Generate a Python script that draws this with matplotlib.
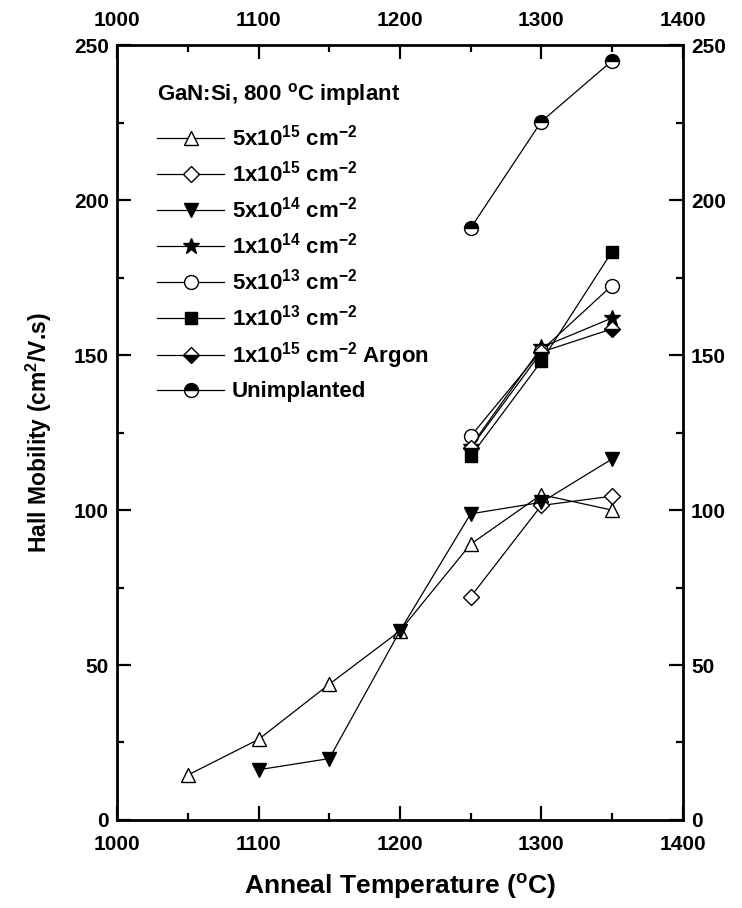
import matplotlib
matplotlib.use("Agg")
import matplotlib.pyplot as plt
from matplotlib.ticker import MultipleLocator

plt.rcParams['font.family'] = ['Liberation Sans', 'DejaVu Sans']
plt.rcParams['font.weight'] = 'bold'
plt.rcParams['mathtext.fontset'] = 'custom'
plt.rcParams['mathtext.rm'] = 'Liberation Sans:bold'
plt.rcParams['mathtext.bf'] = 'Liberation Sans:bold'
plt.rcParams['mathtext.it'] = 'Liberation Sans:bold'

# data
t_5e15 = [1050, 1100, 1150, 1200, 1250, 1300, 1350]
mu_5e15 = [14.5, 26, 43.8, 61, 89, 105, 100]
t_1e15 = [1250, 1300, 1350]
mu_1e15 = [72, 101.5, 104.5]
t_5e14 = [1100, 1150, 1200, 1250, 1300, 1350]
mu_5e14 = [16.2, 19.8, 61, 98.8, 102.5, 116.5]
t_1e14 = [1250, 1300, 1350]
mu_1e14 = [120.5, 152.5, 162]
t_5e13 = [1250, 1300, 1350]
mu_5e13 = [123.8, 151.5, 172.5]
t_1e13 = [1250, 1300, 1350]
mu_1e13 = [117.4, 148, 183.4]
t_ar = [1250, 1300, 1350]
mu_ar = [120, 151, 158.5]
t_un = [1250, 1300, 1350]
mu_un = [191, 225.4, 245]

labels = [r'5x10$^{15}$ cm$^{-2}$', r'1x10$^{15}$ cm$^{-2}$',
          r'5x10$^{14}$ cm$^{-2}$', r'1x10$^{14}$ cm$^{-2}$',
          r'5x10$^{13}$ cm$^{-2}$', r'1x10$^{13}$ cm$^{-2}$',
          r'1x10$^{15}$ cm$^{-2}$ Argon', 'Unimplanted']

fig = plt.figure(figsize=(7.42, 9.08), dpi=100)
ax = fig.add_axes([0.158, 0.097, 0.762, 0.853])

lw = 0.9
ms = 10
kw = dict(color='black', lw=lw, markeredgecolor='black', markeredgewidth=1.0)
ax.plot(t_5e15, mu_5e15, marker='^', ms=ms, markerfacecolor='white', label=labels[0], **kw)
ax.plot(t_1e15, mu_1e15, marker='D', ms=8, markerfacecolor='white', label=labels[1], **kw)
ax.plot(t_5e14, mu_5e14, marker='v', ms=ms, markerfacecolor='black', label=labels[2], **kw)
ax.plot(t_1e14, mu_1e14, marker='*', ms=12, markerfacecolor='black', label=labels[3], **kw)
ax.plot(t_5e13, mu_5e13, marker='o', ms=ms, markerfacecolor='white', label=labels[4], **kw)
ax.plot(t_1e13, mu_1e13, marker='s', ms=9, markerfacecolor='black', label=labels[5], **kw)
ax.plot(t_ar, mu_ar, marker='D', ms=8, fillstyle='bottom', markerfacecolor='black',
        markerfacecoloralt='white', label=labels[6], **kw)
ax.plot(t_un, mu_un, marker='o', ms=ms, fillstyle='top', markerfacecolor='black',
        markerfacecoloralt='white', label=labels[7], **kw)

ax.set_xlim(1000, 1400)
ax.set_ylim(0, 250)
ax.xaxis.set_major_locator(MultipleLocator(100))
ax.xaxis.set_minor_locator(MultipleLocator(50))
ax.yaxis.set_major_locator(MultipleLocator(50))
ax.yaxis.set_minor_locator(MultipleLocator(25))
ax.tick_params(which='both', direction='in', top=True, right=True,
               labeltop=True, labelright=True, width=1.6, labelsize=15)
ax.tick_params(axis='x', pad=11)
ax.tick_params(axis='y', pad=6)
ax.tick_params(which='major', length=10)
ax.tick_params(which='minor', length=5)
for s in ax.spines.values():
    s.set_linewidth(2)

ax.set_xlabel(r'Anneal Temperature ($^{o}$C)', fontsize=19, fontweight='bold', labelpad=13)
ax.set_ylabel(r'Hall Mobility (cm$^{2}$/V.s)', fontsize=16.5, fontweight='bold', labelpad=14)

leg = ax.legend(loc='upper left', bbox_to_anchor=(0.055, 0.965), frameon=False,
                title=r'GaN:Si, 800 $^{o}$C implant', alignment='left',
                prop={'size': 16, 'weight': 'bold'}, handlelength=3.0,
                labelspacing=0.45, handletextpad=0.35, borderaxespad=0)
leg.get_title().set_fontsize(16)
leg.get_title().set_fontweight('bold')
leg._legend_box.sep = 12

fig.savefig('out.png', dpi=100)
